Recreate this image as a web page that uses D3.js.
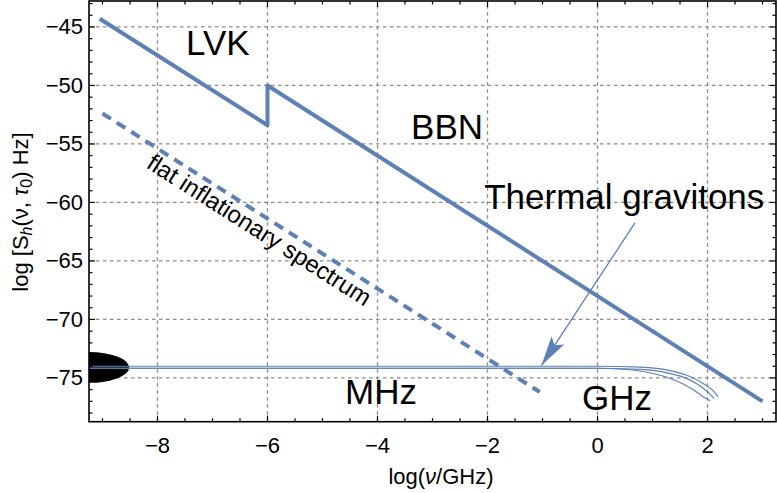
<!DOCTYPE html>
<html>
<head>
<meta charset="utf-8">
<script src="https://cdn.jsdelivr.net/npm/d3@7"></script>
<style>
  body { margin: 0; background: #fff; }
  text { font-family: "Liberation Sans", Arial, sans-serif; fill: #000; }
</style>
</head>
<body>
<svg id="chart" width="777" height="493"></svg>
<script>
// axis ranges and ticks
var xDomain = [-9.245, 3.245];
var yDomain = [-78.74, -42.78];
var xTicks = [-8, -6, -4, -2, 0, 2];
var yTicks = [-75, -70, -65, -60, -55, -50, -45];

// upper solid line (LVK / BBN bound)
var boundX = [-9.05, -6, -6, 3];
var boundY = [-44.3, -53.4, -50, -77];

// flat inflationary spectrum (dashed)
var flatX = [-9, -1.05];
var flatY = [-52.4, -76.2];

// thermal graviton curves
var thermAX = [-9.245, 0, 0.77, 1.32, 1.68, 1.95, 2.1, 2.19];
var thermAY = [-74.0, -74.0, -74.08, -74.38, -74.88, -75.56, -76.08, -76.6];
var thermBX = [-9.245, 0, 0.77, 1.27, 1.65, 1.9, 2.05, 2.12];
var thermBY = [-74.17, -74.17, -74.27, -74.57, -75.1, -75.8, -76.4, -76.75];
var thermCX = [-9.245, 0, 0.59, 1.05, 1.41, 1.72, 1.92, 2.05];
var thermCY = [-74.17, -74.17, -74.3, -74.66, -75.2, -75.95, -76.6, -76.95];

// arrow pointing to thermal curves
var arrowX = [0.68, -1.02];
var arrowY = [-61.75, -73.93];

// black blob at the left
var blobX = -9.245, blobY = -74.1, blobRx = 0.73, blobRy = 1.32;

var labels = [
  { text: "LVK", x: -7.48, y: -47.4, size: 35 },
  { text: "BBN", x: -3.39, y: -54.57, size: 35 },
  { text: "Thermal gravitons", x: -2.06, y: -60.56, size: 35 },
  { text: "MHz", x: -4.59, y: -77.2, size: 35 },
  { text: "GHz", x: -0.28, y: -77.74, size: 35 }
];

var blue = "#5e81b5";
var margin = { left: 89, top: 1, right: 1, bottom: 71.3 };
var W = 777, H = 493;
var svg = d3.select("#chart");

var x = d3.scaleLinear().domain(xDomain).range([margin.left, W - margin.right]);
var y = d3.scaleLinear().domain(yDomain).range([H - margin.bottom, margin.top]);

svg.append("defs").append("clipPath").attr("id", "plotclip")
  .append("rect")
  .attr("x", x(xDomain[0])).attr("y", y(yDomain[1]))
  .attr("width", x(xDomain[1]) - x(xDomain[0]))
  .attr("height", y(yDomain[0]) - y(yDomain[1]));

var marker = svg.select("defs").append("marker")
  .attr("id", "head")
  .attr("markerUnits", "userSpaceOnUse")
  .attr("markerWidth", 40).attr("markerHeight", 40)
  .attr("viewBox", "-34 -12 40 24")
  .attr("refX", 0).attr("refY", 0)
  .attr("orient", "auto");
marker.append("path").attr("d", "M0,0 L-30,-7.5 L-24,0 L-30,7.5 Z").attr("fill", blue);

// grid
var grid = svg.append("g").attr("stroke", "#8a8a8a").attr("stroke-width", 1.3)
  .attr("stroke-dasharray", "3.5,3.5");
xTicks.forEach(function (t) {
  grid.append("line").attr("x1", x(t)).attr("x2", x(t))
    .attr("y1", y(yDomain[0])).attr("y2", y(yDomain[1]));
});
yTicks.forEach(function (t) {
  grid.append("line").attr("y1", y(t)).attr("y2", y(t))
    .attr("x1", x(xDomain[0])).attr("x2", x(xDomain[1]));
});

var plot = svg.append("g").attr("clip-path", "url(#plotclip)");

function zip(xs, ys) {
  return xs.map(function (d, i) { return [d, ys[i]]; });
}
var line = d3.line().x(function (d) { return x(d[0]); }).y(function (d) { return y(d[1]); });
var smooth = d3.line().curve(d3.curveMonotoneX)
  .x(function (d) { return x(d[0]); }).y(function (d) { return y(d[1]); });

// blob
plot.append("ellipse")
  .attr("cx", x(blobX)).attr("cy", y(blobY))
  .attr("rx", x(blobX + blobRx) - x(blobX))
  .attr("ry", y(blobY - blobRy) - y(blobY))
  .attr("fill", "#000");

// thermal curves
[[thermAX, thermAY], [thermBX, thermBY], [thermCX, thermCY]].forEach(function (c) {
  plot.append("path").attr("d", smooth(zip(c[0], c[1])))
    .attr("fill", "none").attr("stroke", blue).attr("stroke-width", 1.2);
});

// dashed flat spectrum
plot.append("path").attr("d", line(zip(flatX, flatY)))
  .attr("fill", "none").attr("stroke", blue).attr("stroke-width", 4)
  .attr("stroke-dasharray", "10,7");

// bound line
plot.append("path").attr("d", line(zip(boundX, boundY)))
  .attr("fill", "none").attr("stroke", blue).attr("stroke-width", 4)
  .attr("stroke-linejoin", "round");

// arrow
plot.append("path").attr("d", line(zip(arrowX, arrowY)))
  .attr("fill", "none").attr("stroke", blue).attr("stroke-width", 1.3)
  .attr("marker-end", "url(#head)");

// text labels
labels.forEach(function (l) {
  svg.append("text").attr("x", x(l.x)).attr("y", y(l.y))
    .attr("font-size", l.size).text(l.text);
});

// rotated label along the dashed line
var angle = Math.atan2(y(flatY[1]) - y(flatY[0]), x(flatX[1]) - x(flatX[0])) * 180 / Math.PI;
svg.append("text")
  .attr("transform", "translate(" + x(-6.23) + "," + y(-62.95) + ") rotate(" + angle + ")")
  .attr("text-anchor", "middle").attr("font-size", 24)
  .text("flat inflationary spectrum");

// frame
svg.append("rect")
  .attr("x", x(xDomain[0])).attr("y", y(yDomain[1]))
  .attr("width", x(xDomain[1]) - x(xDomain[0]))
  .attr("height", y(yDomain[0]) - y(yDomain[1]))
  .attr("fill", "none").attr("stroke", "#000").attr("stroke-width", 1.6);

// ticks on all four sides
var tk = svg.append("g").attr("stroke", "#000").attr("stroke-width", 1.2);
var xMinor = d3.range(-9, 3.01, 0.5);
xMinor.forEach(function (t) {
  var len = xTicks.indexOf(t) >= 0 ? 6 : 3.5;
  tk.append("line").attr("x1", x(t)).attr("x2", x(t))
    .attr("y1", y(yDomain[0])).attr("y2", y(yDomain[0]) - len);
  tk.append("line").attr("x1", x(t)).attr("x2", x(t))
    .attr("y1", y(yDomain[1])).attr("y2", y(yDomain[1]) + len);
});
var yMinor = d3.range(-78, -42, 1);
yMinor.forEach(function (t) {
  var len = yTicks.indexOf(t) >= 0 ? 6 : 3.5;
  tk.append("line").attr("y1", y(t)).attr("y2", y(t))
    .attr("x1", x(xDomain[0])).attr("x2", x(xDomain[0]) + len);
  tk.append("line").attr("y1", y(t)).attr("y2", y(t))
    .attr("x1", x(xDomain[1])).attr("x2", x(xDomain[1]) - len);
});

// tick labels
var fmt = function (t) { return t < 0 ? "\u2212" + Math.abs(t) : String(t); };
xTicks.forEach(function (t) {
  svg.append("text").attr("x", x(t)).attr("y", y(yDomain[0]) + 31)
    .attr("text-anchor", "middle").attr("font-size", 22).text(fmt(t));
});
yTicks.forEach(function (t) {
  svg.append("text").attr("x", x(xDomain[0]) - 6).attr("y", y(t) + 7.5)
    .attr("text-anchor", "end").attr("font-size", 22).text(fmt(t));
});

// axis titles
var xt = svg.append("text").attr("x", 441).attr("y", 484)
  .attr("text-anchor", "middle").attr("font-size", 22);
xt.append("tspan").text("log(");
xt.append("tspan").attr("font-style", "italic").text("\u03bd");
xt.append("tspan").text("/GHz)");

var yt = svg.append("text").attr("transform", "translate(28,212) rotate(-90)")
  .attr("text-anchor", "middle").attr("font-size", 22);
yt.append("tspan").text("log [S");
yt.append("tspan").attr("font-style", "italic").attr("font-size", 16).attr("dy", 4).text("h");
yt.append("tspan").attr("dy", -4).text("(\u03bd, ");
yt.append("tspan").attr("font-style", "italic").text("\u03c4");
yt.append("tspan").attr("font-size", 16).attr("dy", 4).text("0");
yt.append("tspan").attr("dy", -4).text(") Hz]");
</script>
</body>
</html>
